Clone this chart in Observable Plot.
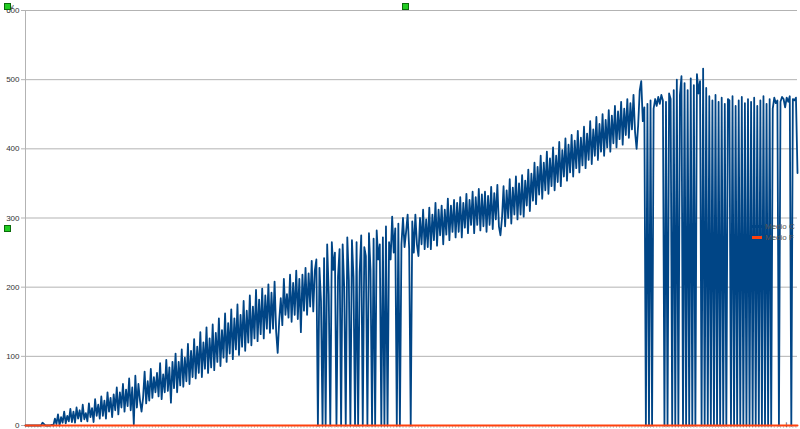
<!DOCTYPE html>
<html>
<head>
<meta charset="utf-8">
<script src="https://cdn.jsdelivr.net/npm/d3@7"></script>
<script src="https://cdn.jsdelivr.net/npm/@observablehq/plot@0.6"></script>
<style>
  html, body { margin: 0; padding: 0; background: #fff; }
  #wrap { position: relative; width: 800px; height: 429px; overflow: hidden; background: #fff; }
  #legend { position: absolute; left: 752px; top: 221px; z-index: 3; font: 8px "Liberation Sans", Arial, sans-serif; color: #555; }
  #legend .row { display: flex; align-items: center; height: 11px; white-space: nowrap; }
  #legend .sw { width: 10px; height: 3px; margin-right: 3px; }
  #chart { position: absolute; left: 0; top: 0; z-index: 1; }
  .handle { position: absolute; width: 5px; height: 5px; background: #22cc22; border: 1px solid #0a6a0a; z-index: 4; }
</style>
</head>
<body>
<div id="wrap">
  <div id="chart"></div>
  <div id="legend"></div>
  <div class="handle" style="left:4px;top:3px"></div>
  <div class="handle" style="left:402px;top:3px"></div>
  <div class="handle" style="left:4px;top:225px"></div>
</div>
<script>
// Series names (legend)
const seriesNames = ["Medio C", "Medio F"];
const seriesColors = ["#004586", "#ff420e"];
// Y axis tick values
const yTicks = [0, 100, 200, 300, 400, 500, 600];

// Series "Medio C" (one value per category)
const seriesC = [
  0,0,0,0,0,0,0,0,0,0,
  0,4,2,0,0,0,0,1,0,10,
  2,16,0,12,4,20,3,14,6,24,
  5,20,4,26,10,22,6,30,9,18,
  6,32,12,25,5,38,14,30,10,42,
  14,36,10,48,20,40,12,45,22,55,
  16,48,26,60,20,52,28,68,22,55,
  2,72,26,60,36,20,40,78,32,64,
  36,82,40,70,48,76,42,90,38,74,
  48,95,50,84,33,92,54,104,48,92,
  58,110,56,98,64,118,60,108,70,125,
  68,114,76,135,70,120,82,142,76,126,
  84,146,80,134,92,155,86,138,98,162,
  92,148,104,168,96,155,110,175,102,160,
  114,180,108,166,120,188,116,172,126,196,
  122,182,132,198,126,188,140,204,134,192,
  140,208,136,105,152,184,145,212,160,190,
  156,218,150,206,160,224,154,212,135,218,
  166,228,160,220,172,238,165,224,240,0,
  228,180,0,242,0,262,190,0,265,225,
  250,0,215,255,0,262,200,0,272,210,
  0,268,215,0,265,0,222,275,0,258,
  245,0,278,225,0,270,0,282,240,262,
  0,272,0,288,0,265,240,302,250,285,
  0,292,0,262,300,258,280,305,255,0,
  295,250,305,262,245,300,262,312,255,298,
  258,315,255,305,268,322,260,312,275,318,
  262,312,276,328,268,318,280,326,272,322,
  280,330,272,322,286,335,278,326,290,338,
  278,330,290,342,282,334,288,338,280,332,
  290,345,284,336,298,348,288,275,300,346,
  288,340,300,356,292,344,305,360,298,350,
  305,362,302,354,318,370,310,364,325,380,
  320,374,334,390,328,380,340,396,335,386,
  346,402,340,390,352,410,346,398,360,415,
  354,406,366,420,360,412,372,426,366,416,
  376,432,372,422,384,440,378,428,390,446,
  384,436,396,450,390,442,402,456,396,448,
  408,462,402,454,414,468,406,458,420,472,
  416,466,428,478,424,400,434,484,498,440,
  460,0,465,0,470,0,458,472,462,475,
  465,478,470,0,468,0,480,472,0,485,
  0,500,0,478,505,0,495,0,485,0,
  502,0,492,0,508,480,498,0,516,0,
  488,0,476,0,470,0,478,0,468,0,
  474,0,465,0,472,470,0,476,0,462,
  0,470,0,475,0,466,0,472,0,468,
  0,474,0,462,0,470,0,476,0,465,
  0,472,0,458,474,466,470,0,468,475,
  472,460,474,468,476,0,472,470,474,365
];

// Series "Medio F" (one value per category)
const seriesF = [
  0,0,0,0,0,0,0,0,0,0,0,0,0,0,0,0,0,0,0,0,0,0,0,0,0,0,0,0,0,0,0,0,0,0,0,0,0,0,0,0,0,0,0,0,0,0,0,0,0,0,
  0,0,0,0,0,0,0,0,0,0,0,0,0,0,0,0,0,0,0,0,0,0,0,0,0,0,0,0,0,0,0,0,0,0,0,0,0,0,0,0,0,0,0,0,0,0,0,0,0,0,
  0,0,0,0,0,0,0,0,0,0,0,0,0,0,0,0,0,0,0,0,0,0,0,0,0,0,0,0,0,0,0,0,0,0,0,0,0,0,0,0,0,0,0,0,0,0,0,0,0,0,
  0,0,0,0,0,0,0,0,0,0,0,0,0,0,0,0,0,0,0,0,0,0,0,0,0,0,0,0,0,0,0,0,0,0,0,0,0,0,0,0,0,0,0,0,0,0,0,0,0,0,
  0,0,0,0,0,0,0,0,0,0,0,0,0,0,0,0,0,0,0,0,0,0,0,0,0,0,0,0,0,0,0,0,0,0,0,0,0,0,0,0,0,0,0,0,0,0,0,0,0,0,
  0,0,0,0,0,0,0,0,0,0,0,0,0,0,0,0,0,0,0,0,0,0,0,0,0,0,0,0,0,0,0,0,0,0,0,0,0,0,0,0,0,0,0,0,0,0,0,0,0,0,
  0,0,0,0,0,0,0,0,0,0,0,0,0,0,0,0,0,0,0,0,0,0,0,0,0,0,0,0,0,0,0,0,0,0,0,0,0,0,0,0,0,0,0,0,0,0,0,0,0,0,
  0,0,0,0,0,0,0,0,0,0,0,0,0,0,0,0,0,0,0,0,0,0,0,0,0,0,0,0,0,0,0,0,0,0,0,0,0,0,0,0,0,0,0,0,0,0,0,0,0,0,
  0,0,0,0,0,0,0,0,0,0,0,0,0,0,0,0,0,0,0,0,0,0,0,0,0,0,0,0,0,0,0,0,0,0,0,0,0,0,0,0,0,0,0,0,0,0,0,0,0,0,
  0,0,0,0,0,0,0,0,0,0,0,0,0,0,0,0,0,0,0,0,0,0,0,0,0,0,0,0,0,0,0,0,0,0,0,0,0,0,0,0,0,0,0,0,0,0,0,0,0,0
];

const N = seriesC.length;
const categories = seriesC.map((_, i) => i);
const catTicks = categories.filter(i => i % 2 === 0);
const rowsC = categories.map(i => ({i, v: seriesC[i]}));
const rowsF = categories.map(i => ({i, v: seriesF[i]}));

const chart = Plot.plot({
  width: 800,
  height: 429,
  marginLeft: 25,
  marginRight: 3,
  marginTop: 10,
  marginBottom: 4,
  style: {background: "transparent", fontFamily: "'Liberation Sans', Arial, sans-serif", fontSize: "8px", color: "#333"},
  x: {domain: [0, N - 1], axis: null},
  y: {domain: [0, 600], axis: null},
  marks: [
    Plot.gridY(yTicks, {stroke: "#b3b3b3", strokeOpacity: 1}),
    Plot.axisY(yTicks, {tickSize: 4, tickPadding: 2, stroke: "#b3b3b3", fill: "#333", tickFormat: d => String(d)}),
    Plot.ruleX([0], {stroke: "#b3b3b3"}),
    Plot.axisX(catTicks, {tickSize: 3, stroke: "#c8c8c8", tickFormat: () => "", anchor: "bottom"}),
    Plot.lineY(rowsC, {x: "i", y: "v", stroke: seriesColors[0], strokeWidth: 1.8}),
    Plot.lineY(rowsF, {x: "i", y: "v", stroke: seriesColors[1], strokeWidth: 2})
  ]
});
document.getElementById("chart").appendChild(chart);

const legend = document.getElementById("legend");
seriesNames.forEach((name, k) => {
  const row = document.createElement("div");
  row.className = "row";
  const sw = document.createElement("span");
  sw.className = "sw";
  sw.style.background = seriesColors[k];
  const t = document.createElement("span");
  t.textContent = name;
  row.appendChild(sw);
  row.appendChild(t);
  legend.appendChild(row);
});
</script>
</body>
</html>
